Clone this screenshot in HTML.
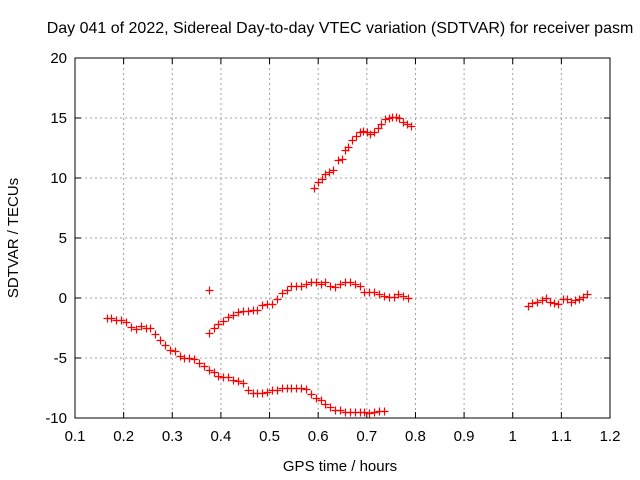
<!DOCTYPE html>
<html><head><meta charset="utf-8"><style>
body{margin:0;background:#fff}
svg{display:block}
text{font-family:"Liberation Sans",sans-serif;font-size:15px;fill:#000}
</style></head><body>
<svg id="chart" width="640" height="480">
<text x="340" y="33" text-anchor="middle" style="font-size:16px">Day 041 of 2022, Sidereal Day-to-day VTEC variation (SDTVAR) for receiver pasm</text>
<text x="340" y="471" text-anchor="middle">GPS time / hours</text>
<text transform="translate(18,238) rotate(-90)" text-anchor="middle">SDTVAR / TECUs</text>
<g id="grid"></g><g id="axes"></g><g id="marks"></g>
</svg>
<script>
const xTicks=[0.1,0.2,0.3,0.4,0.5,0.6,0.7,0.8,0.9,1,1.1,1.2];
const xTickLabels=["0.1","0.2","0.3","0.4","0.5","0.6","0.7","0.8","0.9","1","1.1","1.2"];
const yTicks=[-10,-5,0,5,10,15,20];
const yTickLabels=["-10","-5","0","5","10","15","20"];
const seriesAx=[0.165,0.175,0.185,0.195,0.205,0.215,0.225,0.235,0.245,0.255,0.265,0.275,0.285,0.295,0.305,0.315,0.325,0.335,0.345,0.355,0.365,0.375,0.385,0.395,0.405,0.415,0.425,0.435,0.445,0.455,0.465,0.475,0.485,0.495,0.505,0.515,0.525,0.535,0.545,0.555,0.565,0.575,0.585,0.595,0.605,0.615,0.625,0.635,0.645,0.655,0.665,0.675,0.685,0.695,0.705,0.715,0.725,0.735];
const seriesAy=[-1.7,-1.7,-1.8,-1.8,-2.0,-2.4,-2.6,-2.3,-2.5,-2.5,-3.0,-3.5,-3.9,-4.3,-4.4,-4.8,-5.0,-5.0,-5.1,-5.4,-5.7,-6.0,-6.2,-6.5,-6.6,-6.6,-6.8,-6.9,-7.1,-7.7,-7.9,-7.9,-7.9,-7.8,-7.7,-7.7,-7.5,-7.5,-7.5,-7.5,-7.5,-7.6,-8.0,-8.3,-8.5,-8.8,-9.1,-9.3,-9.3,-9.5,-9.5,-9.5,-9.5,-9.5,-9.6,-9.5,-9.4,-9.4];
const seriesBx=[0.375,0.375,0.385,0.395,0.405,0.415,0.425,0.435,0.445,0.455,0.465,0.475,0.485,0.495,0.505,0.515,0.525,0.535,0.545,0.555,0.565,0.575,0.585,0.595,0.605,0.615,0.625,0.635,0.645,0.655,0.665,0.675,0.685,0.695,0.705,0.715,0.725,0.735,0.745,0.755,0.765,0.775,0.785];
const seriesBy=[0.7,-2.9,-2.5,-2.2,-1.9,-1.6,-1.4,-1.2,-1.1,-1.1,-1.0,-1.0,-0.6,-0.5,-0.5,-0.1,0.4,0.7,1.0,1.0,1.0,1.2,1.3,1.3,1.2,1.3,1.0,0.9,1.2,1.3,1.3,1.2,1.0,0.5,0.5,0.5,0.3,0.2,0.1,0.1,0.3,0.2,0.0];
const seriesCx=[0.592,0.600,0.607,0.615,0.622,0.630,0.640,0.648,0.655,0.662,0.670,0.678,0.685,0.692,0.700,0.707,0.715,0.722,0.730,0.738,0.745,0.752,0.760,0.767,0.775,0.782,0.790];
const seriesCy=[9.2,9.7,9.9,10.3,10.5,10.7,11.5,11.6,12.3,12.6,13.2,13.5,13.8,13.9,13.8,13.7,13.8,14.2,14.5,14.9,15.0,15.1,15.1,15.0,14.7,14.5,14.3];
const seriesDx=[1.031,1.040,1.050,1.060,1.068,1.076,1.085,1.093,1.103,1.111,1.120,1.128,1.136,1.145,1.152];
const seriesDy=[-0.7,-0.4,-0.3,-0.2,0.0,-0.3,-0.4,-0.5,-0.1,-0.1,-0.3,-0.2,-0.1,0.1,0.3];

const L=75,R=610,T=58,B=418;
const xs=v=>L+(v-0.1)/1.1*(R-L);
const ys=v=>B-(v+10)/30*(B-T);
const NS="http://www.w3.org/2000/svg";
function mk(tag,parent,attrs){const e=document.createElementNS(NS,tag);for(const k in attrs)e.setAttribute(k,attrs[k]);parent.appendChild(e);return e;}
const grid=document.getElementById('grid'),axes=document.getElementById('axes'),marks=document.getElementById('marks');
xTicks.forEach((t,i)=>{
  const x=xs(t);
  if(i>0&&i<xTicks.length-1){const g=mk('line',grid,{x1:x,x2:x,y1:T,y2:B,stroke:'#a0a0a0','stroke-dasharray':'2,3'});
  
  }
  mk('line',axes,{x1:x,x2:x,y1:B,y2:B-6,stroke:'#000'});
  mk('line',axes,{x1:x,x2:x,y1:T,y2:T+6,stroke:'#000'});
  const tx=mk('text',axes,{x:x,y:B+23,'text-anchor':'middle'});tx.textContent=xTickLabels[i];
  
  
});
yTicks.forEach((t,i)=>{
  const y=ys(t);
  if(i>0&&i<yTicks.length-1){const g=mk('line',grid,{x1:L,x2:R,y1:y,y2:y,stroke:'#a0a0a0','stroke-dasharray':'2,3'});
  
  }
  mk('line',axes,{x1:L,x2:L+6,y1:y,y2:y,stroke:'#000'});
  mk('line',axes,{x1:R,x2:R-6,y1:y,y2:y,stroke:'#000'});
  const tx=mk('text',axes,{x:L-8,y:y+5,'text-anchor':'end'});tx.textContent=yTickLabels[i];
  
  
});
const fr=mk('rect',axes,{x:L,y:T,width:R-L,height:B-T,fill:'none',stroke:'#000'});


[[seriesAx,seriesAy],[seriesBx,seriesBy],[seriesCx,seriesCy],[seriesDx,seriesDy]].forEach(([X,Y])=>{
  X.forEach((xv,i)=>{
    const x=Math.round(xs(xv))+0.5,y=Math.round(ys(Y[i]))+0.5;
    const p=mk('path',marks,{d:`M${x-4},${y}H${x+4}M${x},${y-4}V${y+4}`,stroke:'#f00','stroke-width':1.2});
    
    
  });
});
</script>
</body></html>
